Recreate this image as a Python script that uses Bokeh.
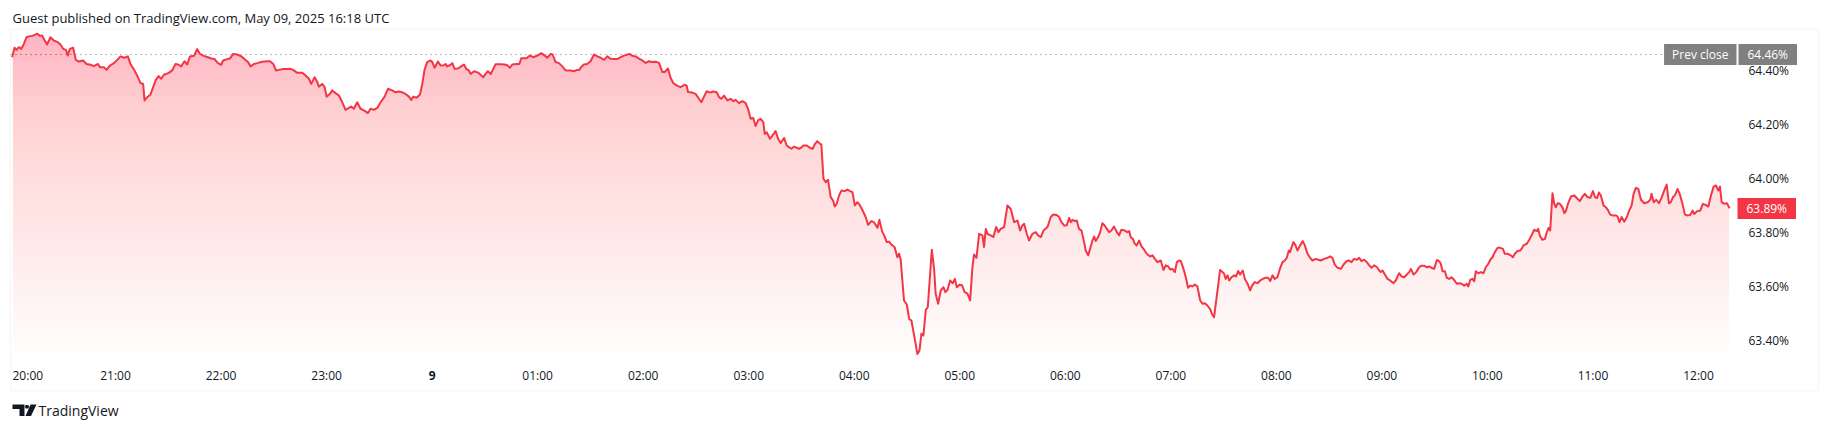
import numpy as np
from bokeh.plotting import figure
from bokeh.models import Range1d, Label, BoxAnnotation, PolyAnnotation
from bokeh.embed import file_html
from bokeh.resources import INLINE

# ---------------- data (minutes after 20:00, value in %) ----------------
t1 = [1.2, 2.6, 3.7, 5.0, 6.4, 7.5, 9.4, 10.7, 12.6, 13.9, 15.5, 17.0, 18.3, 19.6, 21.1, 23.0, 24.9, 26.8, 28.7, 30.2,
      31.8, 32.9, 34.0, 35.9, 37.4, 39.1, 41.6, 43.5, 45.8, 47.7, 50.0, 51.1, 53.4, 54.9, 56.8, 59.1, 61.0, 62.8, 65.1,
      67.0, 68.5, 70.8, 72.7, 74.2, 75.7, 76.5, 78.0, 79.9, 81.4, 82.9, 84.5, 86.0, 87.5, 90.3, 92.2, 94.1, 95.6, 97.3,
      99.2, 100.8, 102.3, 104.6, 106.4, 108.0, 110.2, 112.5, 114.4, 116.3, 118.2, 120.1, 121.2, 123.5, 125.0, 126.9,
      129.2, 131.5, 133.9, 135.3, 136.8, 138.7, 140.6, 143.4, 146.3, 147.8, 149.7, 151.2, 152.9, 155.4, 157.6]
v1 = [64.450, 64.485, 64.477, 64.487, 64.481, 64.493, 64.524, 64.527, 64.529, 64.532, 64.537, 64.529, 64.530, 64.514,
      64.497, 64.524, 64.512, 64.507, 64.497, 64.481, 64.477, 64.456, 64.481, 64.485, 64.440, 64.434, 64.438, 64.425,
      64.422, 64.417, 64.425, 64.413, 64.413, 64.403, 64.419, 64.428, 64.440, 64.453, 64.448, 64.453, 64.425, 64.401,
      64.376, 64.354, 64.351, 64.290, 64.302, 64.312, 64.339, 64.366, 64.380, 64.370, 64.385, 64.392, 64.401, 64.425,
      64.423, 64.416, 64.435, 64.423, 64.453, 64.455, 64.480, 64.462, 64.455, 64.450, 64.445, 64.443, 64.428, 64.422,
      64.438, 64.443, 64.445, 64.462, 64.460, 64.453, 64.440, 64.432, 64.416, 64.425, 64.428, 64.433, 64.435, 64.435,
      64.425, 64.401, 64.403, 64.406, 64.406]

t2 = [159.5, 161.4, 163.3, 166.2, 168.1, 170.0, 171.3, 173.2, 174.7, 175.6, 177.5, 178.9, 180.0, 181.9, 183.2, 185.1,
      187.0, 188.9, 190.8, 192.7, 194.0, 195.5, 197.4, 199.3, 201.2, 203.5, 205.0, 206.9, 208.8, 210.7, 213.0, 214.9,
      217.3, 219.2, 221.1, 223.0, 224.9, 226.8, 228.1, 229.3, 231.2, 233.1, 234.4, 235.7, 237.2, 239.1, 240.1, 241.4,
      243.3, 244.8, 246.7, 247.7, 248.6, 250.1, 251.5, 252.8, 254.7, 257.2, 258.1, 259.4, 260.9, 261.9, 263.8, 266.1,
      268.0, 269.1, 270.4, 271.7, 273.3, 276.1, 279.0, 281.2, 282.7, 284.3, 285.6, 288.1, 289.6, 290.7, 293.7, 295.6,
      297.5, 299.8, 302.1, 304.0, 305.5, 307.4, 308.5, 310.2, 312.1, 314.0, 315.9, 318.8, 320.6, 322.5, 323.7]
v2 = [64.407, 64.401, 64.392, 64.392, 64.382, 64.370, 64.351, 64.376, 64.358, 64.341, 64.351, 64.339, 64.304, 64.314,
      64.327, 64.317, 64.308, 64.283, 64.255, 64.262, 64.267, 64.259, 64.283, 64.259, 64.253, 64.243, 64.259, 64.255,
      64.262, 64.283, 64.304, 64.333, 64.327, 64.320, 64.323, 64.320, 64.314, 64.304, 64.292, 64.304, 64.300, 64.312,
      64.351, 64.403, 64.432, 64.438, 64.432, 64.411, 64.434, 64.419, 64.420, 64.425, 64.416, 64.420, 64.428, 64.407,
      64.408, 64.419, 64.423, 64.407, 64.401, 64.388, 64.398, 64.393, 64.382, 64.376, 64.388, 64.398, 64.388, 64.424,
      64.424, 64.423, 64.420, 64.411, 64.423, 64.425, 64.425, 64.446, 64.446, 64.456, 64.450, 64.456, 64.465, 64.456,
      64.448, 64.462, 64.460, 64.432, 64.428, 64.416, 64.401, 64.401, 64.398, 64.403, 64.403]

t3 = [324.4, 326.3, 328.2, 330.1, 332.0, 333.9, 335.8, 337.7, 339.6, 341.5, 343.4, 345.3, 347.2, 349.1, 351.0, 352.5,
      353.8, 355.7, 357.6, 359.5, 361.4, 363.3, 365.2, 367.1, 369.0, 370.9, 372.2, 374.1, 375.6, 377.1, 379.4, 381.3,
      383.6, 384.7, 385.5, 387.9, 389.8, 391.7, 393.1, 394.6, 396.1, 398.0, 399.9, 401.8, 403.1, 404.4, 405.9, 407.9,
      409.7, 411.3, 412.6, 414.5, 416.4, 418.3, 419.6, 421.1, 422.6, 423.9, 425.3, 426.8, 428.3, 429.1, 430.2, 432.1,
      433.4, 435.3, 436.7, 438.2, 440.1, 441.6, 442.9, 444.3, 445.8, 448.6]
v3 = [64.411, 64.423, 64.425, 64.435, 64.460, 64.453, 64.448, 64.440, 64.453, 64.444, 64.443, 64.443, 64.450, 64.456,
      64.460, 64.462, 64.455, 64.453, 64.445, 64.438, 64.429, 64.435, 64.432, 64.433, 64.429, 64.395, 64.395, 64.408,
      64.374, 64.354, 64.344, 64.339, 64.348, 64.345, 64.321, 64.319, 64.314, 64.296, 64.283, 64.304, 64.324, 64.319,
      64.323, 64.320, 64.302, 64.296, 64.308, 64.290, 64.296, 64.287, 64.292, 64.280, 64.287, 64.280, 64.259, 64.222,
      64.225, 64.195, 64.216, 64.222, 64.209, 64.166, 64.172, 64.148, 64.159, 64.176, 64.148, 64.132, 64.151, 64.123,
      64.117, 64.111, 64.119, 64.111]

t4 = [449.6, 451.1, 453.0, 454.9, 456.4, 457.5, 459.0, 460.6, 461.3, 462.5, 463.8, 465.1, 466.6, 468.0, 468.9, 470.0,
      471.4, 472.7, 474.6, 476.1, 477.6, 479.0, 480.3, 481.8, 483.3, 484.8, 486.5, 487.9, 489.8, 491.3, 493.2, 494.3,
      495.8, 497.0, 498.5, 499.8, 501.1, 503.0, 504.5, 505.5, 506.4, 508.3, 509.9, 511.2, 512.5, 514.4, 515.9, 517.1,
      518.2, 519.3, 520.7, 521.8, 522.9, 524.1, 525.4, 526.3, 527.7, 529.2, 530.7, 531.8, 533.0, 534.5, 536.0, 537.2,
      538.3, 539.8, 541.3, 542.8, 544.4, 545.9, 547.2, 548.1, 549.5, 551.0, 552.9, 553.8, 554.8, 555.7, 557.6, 559.1,
      560.7, 562.0, 563.3, 565.2, 567.1, 569.0, 570.9, 572.8, 574.3, 575.6, 576.6, 578.1, 579.4, 581.3, 583.2, 584.5,
      586.1, 587.6, 589.9]
v4 = [64.114, 64.123, 64.123, 64.114, 64.111, 64.127, 64.139, 64.129, 64.127, 64.000, 63.987, 63.996, 63.932, 63.919,
      63.897, 63.907, 63.938, 63.956, 63.954, 63.960, 63.954, 63.950, 63.901, 63.913, 63.901, 63.882, 63.858, 63.829,
      63.843, 63.838, 63.818, 63.848, 63.806, 63.790, 63.765, 63.767, 63.756, 63.746, 63.709, 63.722, 63.700, 63.549,
      63.534, 63.481, 63.475, 63.407, 63.351, 63.364, 63.426, 63.419, 63.514, 63.524, 63.625, 63.737, 63.666, 63.574,
      63.537, 63.586, 63.598, 63.580, 63.588, 63.623, 63.613, 63.629, 63.598, 63.607, 63.605, 63.580, 63.574, 63.549,
      63.672, 63.719, 63.707, 63.796, 63.790, 63.747, 63.814, 63.796, 63.790, 63.784, 63.821, 63.802, 63.814, 63.821,
      63.901, 63.888, 63.839, 63.845, 63.808, 63.827, 63.833, 63.796, 63.771, 63.796, 63.802, 63.790, 63.784, 63.808,
      63.821]

t5 = [591.7, 593.2, 595.1, 596.5, 597.8, 599.3, 600.8, 602.2, 603.1, 604.1, 605.4, 606.5, 607.8, 609.2, 610.7, 611.6,
      613.0, 614.1, 615.4, 616.4, 617.3, 618.6, 619.8, 621.1, 622.4, 623.6, 624.9, 626.2, 627.7, 629.3, 630.6, 631.9,
      633.8, 635.3, 636.3, 637.2, 638.4, 639.5, 640.6, 642.0, 643.3, 644.8, 646.3, 648.2, 649.6, 650.9, 652.4, 654.3,
      655.8, 657.1, 658.5, 659.6, 660.9, 662.3, 663.4, 664.7, 665.7, 667.2, 668.5, 669.8, 671.0, 672.3, 673.6, 675.1,
      676.7, 678.0, 679.3, 680.8, 682.3, 683.5, 684.6, 685.8, 686.9, 688.0, 689.4, 690.3, 691.2, 692.2, 693.2, 694.5,
      696.0, 697.1, 698.3, 699.4, 700.9, 702.1, 703.6, 705.1, 706.2, 707.7, 709.3, 710.8, 712.3, 714.0, 715.3, 716.5,
      717.8, 719.1, 720.6, 722.2, 723.5, 724.8, 725.9, 727.1, 727.8, 728.6, 729.7, 730.9, 732.0, 733.5, 735.0, 736.2,
      737.7, 739.2, 740.5, 742.4, 743.8, 745.3, 747.2, 749.1, 750.6, 751.9, 753.2, 754.8, 756.7, 758.2, 760.1, 761.4,
      762.7, 764.2, 765.8, 767.1, 768.4, 769.9, 771.4, 772.8, 774.1, 775.6, 777.1, 778.5]
v5 = [63.858, 63.867, 63.866, 63.858, 63.839, 63.827, 63.827, 63.855, 63.839, 63.848, 63.843, 63.845, 63.814, 63.808,
      63.765, 63.734, 63.716, 63.740, 63.771, 63.786, 63.769, 63.783, 63.802, 63.835, 63.827, 63.814, 63.802, 63.808,
      63.823, 63.802, 63.790, 63.811, 63.808, 63.802, 63.806, 63.783, 63.777, 63.759, 63.753, 63.771, 63.749, 63.737,
      63.722, 63.712, 63.716, 63.703, 63.691, 63.697, 63.662, 63.679, 63.675, 63.664, 63.666, 63.654, 63.691, 63.697,
      63.695, 63.666, 63.635, 63.596, 63.604, 63.601, 63.608, 63.601, 63.549, 63.537, 63.539, 63.530, 63.518, 63.497,
      63.487, 63.549, 63.604, 63.662, 63.654, 63.648, 63.629, 63.642, 63.623, 63.635, 63.642, 63.638, 63.658, 63.645,
      63.660, 63.629, 63.611, 63.586, 63.604, 63.617, 63.613, 63.623, 63.629, 63.633, 63.633, 63.621, 63.642, 63.629,
      63.635, 63.670, 63.691, 63.697, 63.707, 63.734, 63.728, 63.746, 63.765, 63.753, 63.734, 63.753, 63.769, 63.753,
      63.722, 63.707, 63.697, 63.703, 63.700, 63.697, 63.703, 63.707, 63.712, 63.707, 63.682, 63.670, 63.666, 63.682,
      63.695, 63.697, 63.691, 63.703, 63.700, 63.707, 63.695, 63.700, 63.691, 63.679, 63.670, 63.679, 63.673, 63.660]

t6 = [779.4, 780.4, 781.7, 783.2, 784.7, 786.6, 787.9, 789.8, 791.2, 792.7, 794.2, 795.5, 796.5, 798.0, 799.5, 801.2,
      802.5, 804.0, 805.6, 806.9, 808.2, 809.7, 811.3, 812.6, 813.5, 814.5, 815.8, 816.9, 818.3, 819.6, 821.1, 822.6,
      824.0, 825.3, 826.8, 828.3, 829.1, 830.2, 831.5, 832.5, 833.4, 834.8, 836.3, 837.8, 839.1, 840.5, 841.6, 842.9,
      844.2, 845.8, 847.3, 848.8, 849.9, 851.4, 853.3, 854.5, 855.6, 857.1, 858.6, 859.4, 860.5, 862.4, 863.8, 865.1,
      866.6, 868.1, 868.9, 869.8, 871.2, 872.7, 873.6, 874.8, 875.7, 877.0, 878.0, 878.9, 879.9, 881.2, 882.7, 883.7,
      884.6, 885.9, 887.5, 889.4, 891.3, 892.6, 894.1, 895.4, 896.9, 898.5, 900.0, 901.1, 902.3, 903.4, 904.5, 906.0,
      907.4, 908.7, 909.8, 911.2, 913.1, 914.0, 915.1, 916.3, 917.8, 919.3, 920.6, 922.0, 923.1, 924.4, 925.8, 927.3,
      929.2, 931.1, 932.6, 933.3, 934.5, 936.0, 937.5, 939.0, 940.5, 941.9, 943.2, 944.3, 945.5, 946.6, 948.1, 949.3,
      951.0, 952.3, 953.8, 955.3, 956.7, 957.6, 959.1, 961.0, 962.5, 964.0, 965.6, 967.1, 968.6, 969.9, 971.3, 972.2,
      973.2, 974.7, 976.2, 977.7]
v6 = [63.654, 63.660, 63.645, 63.629, 63.623, 63.613, 63.623, 63.650, 63.638, 63.635, 63.645, 63.654, 63.666, 63.645,
      63.654, 63.672, 63.678, 63.678, 63.672, 63.675, 63.670, 63.666, 63.699, 63.694, 63.685, 63.657, 63.657, 63.633,
      63.629, 63.635, 63.625, 63.611, 63.613, 63.611, 63.604, 63.611, 63.601, 63.625, 63.629, 63.620, 63.657, 63.650,
      63.654, 63.650, 63.672, 63.685, 63.699, 63.709, 63.728, 63.744, 63.744, 63.740, 63.722, 63.722, 63.716, 63.709,
      63.722, 63.732, 63.734, 63.740, 63.753, 63.759, 63.774, 63.790, 63.811, 63.806, 63.814, 63.790, 63.774, 63.777,
      63.798, 63.818, 63.808, 63.946, 63.907, 63.894, 63.909, 63.907, 63.894, 63.872, 63.880, 63.909, 63.934, 63.938,
      63.925, 63.917, 63.934, 63.944, 63.932, 63.929, 63.954, 63.932, 63.928, 63.949, 63.938, 63.901, 63.894, 63.882,
      63.867, 63.864, 63.864, 63.860, 63.839, 63.858, 63.841, 63.858, 63.882, 63.901, 63.944, 63.966, 63.962, 63.922,
      63.909, 63.913, 63.922, 63.944, 63.913, 63.922, 63.909, 63.929, 63.956, 63.978, 63.909, 63.913, 63.932, 63.938,
      63.962, 63.944, 63.904, 63.867, 63.864, 63.866, 63.882, 63.869, 63.879, 63.882, 63.907, 63.903, 63.897, 63.938,
      63.971, 63.975, 63.956, 63.971, 63.913, 63.907, 63.909, 63.890]

prev_close = 64.46
last_value = 63.89
hour_ticks = [0, 60, 120, 180, 240, 300, 360, 420, 480, 540, 600, 660, 720, 780, 840, 900, 960]
hour_labels = ["20:00", "21:00", "22:00", "23:00", "9", "01:00", "02:00", "03:00", "04:00", "05:00",
               "06:00", "07:00", "08:00", "09:00", "10:00", "11:00", "12:00"]
price_ticks = [63.4, 63.6, 63.8, 64.0, 64.2, 64.4]
price_labels = ["63.40%", "63.60%", "63.80%", "64.00%", "64.20%", "64.40%"]
header_text = "Guest published on TradingView.com, May 09, 2025 16:18 UTC"
brand_text = "TradingView"

# ---------------- layout constants (pixels of the 1831x430 canvas) ----------------
W, H = 1831, 430
PX_HOUR = 105.53      # pixels per hour
X_20H = 9.5           # pixel column of 20:00
PX_PCT = 270.0        # pixels per 1 %
Y_PREV = 54.0         # pixel row of the prev-close level
PANE_L, PANE_R, PANE_T, PANE_B = 10, 1735, 30, 362


def mx(px):  # pixel column -> minutes
    return (px - X_20H) * 60.0 / PX_HOUR


def vy(py):  # pixel row -> value
    return prev_close - (py - Y_PREV) / PX_PCT


# ---------------- assemble ----------------
xs_all, ys_all = [], []
for ts, vs in [(t1, v1), (t2, v2), (t3, v3), (t4, v4), (t5, v5), (t6, v6)]:
    for a, b in zip(ts, vs):
        xs_all.append(a)
        ys_all.append(b)
x = np.array(xs_all)
y = np.array(ys_all)

RED = "#f23645"
TXT = "#131722"
FONT = "Open Sans"

p = figure(width=W, height=H, output_backend="svg", toolbar_location=None, tools="",
           x_range=Range1d(mx(0), mx(W)), y_range=Range1d(vy(H), vy(0)),
           x_axis_location=None, y_axis_location=None,
           min_border_left=0, min_border_right=0, min_border_top=0, min_border_bottom=0)
p.background_fill_color = "white"
p.border_fill_color = "white"
p.outline_line_color = None
p.grid.visible = False

pane_x0, pane_x1 = mx(PANE_L), mx(PANE_R)
pane_y0, pane_y1 = vy(PANE_B), vy(PANE_T)

# prev close dotted line
p.segment(x0=[pane_x0], x1=[pane_x1], y0=[prev_close], y1=[prev_close],
          line_color="#787b86", line_width=1, line_dash="1 4")

# gradient area fill (stacked translucent layers)
N = 60
levels = np.linspace(pane_y0, pane_y1, N + 1)[:-1]
prev_T = 0.0
for k, lv in enumerate(levels):
    T = 0.28 * (k + 1) / N
    a = 1 - (1 - T) / (1 - prev_T)
    prev_T = T
    p.varea(x=x, y1=np.full_like(y, lv), y2=np.maximum(y, lv), fill_color=RED, fill_alpha=a)

p.line(x, y, line_color=RED, line_width=2, line_join="round")

# time-scale labels
lab_kw = dict(text_font_size="12px", text_color=TXT, text_baseline="middle", y_offset=13)
p.text(x=hour_ticks[:1], y=[pane_y0], text=hour_labels[:1], text_align="left", x_offset=2.5,
       text_font={"value": FONT}, **lab_kw)
p.text(x=hour_ticks[4:5], y=[pane_y0], text=hour_labels[4:5], text_align="center",
       text_font={"value": FONT}, text_font_style="bold", **lab_kw)
p.text(x=hour_ticks[1:4] + hour_ticks[5:], y=[pane_y0] * (len(hour_ticks) - 2),
       text=hour_labels[1:4] + hour_labels[5:], text_align="center",
       text_font={"value": FONT}, **lab_kw)

# price-scale labels
p.text(x=[pane_x1] * len(price_ticks), y=price_ticks, text=price_labels, x_offset=13,
       text_align="left", text_baseline="middle", text_font={"value": FONT},
       text_font_size="12px", text_color=TXT)

# price badges (x = outer edge of the badge box)
badge_kw = dict(x_units="screen", y_units="data", text_font=FONT, text_font_size="12px",
                text_color="white", text_baseline="middle")
p.add_layout(Label(x=1736, y=prev_close, text="Prev close", text_align="right",
                   background_fill_color="#808080", padding=(8, 2), **badge_kw))
p.add_layout(Label(x=1738, y=prev_close, text=f"{prev_close:.2f}%", text_align="left",
                   background_fill_color="#808080", padding=(9, 2), **badge_kw))
p.add_layout(Label(x=1737, y=last_value, text=f"{last_value:.2f}%", text_align="left",
                   background_fill_color=RED, padding=(9, 2), **badge_kw))

# header / footer (screen units, y measured upward from the canvas bottom)
p.add_layout(Label(x=12, y=H - 17, x_units="screen", y_units="screen", text=header_text,
                   text_font=FONT, text_font_size="13px", text_color=TXT,
                   text_align="left", text_baseline="middle"))
p.add_layout(Label(x=38, y=H - 410, x_units="screen", y_units="screen", text=brand_text,
                   text_font=FONT, text_font_size="14px", text_color=TXT,
                   text_align="left", text_baseline="middle"))

# chart border
p.add_layout(BoxAnnotation(left=10, right=1818, top=H - 29, bottom=H - 390,
                           left_units="screen", right_units="screen", top_units="screen", bottom_units="screen",
                           fill_alpha=0, line_color="#ececec", line_width=2))

# TradingView logo
for shape in ([(12, 404), (24, 404), (24, 415.5), (19, 415.5), (19, 408.5), (12, 408.5)],
              [(30, 404), (36, 404), (30.5, 415.5), (25, 415.5)],
              [(25.2, 404.5), (27.8, 404.5), (28.6, 406.3), (27.8, 408.1), (25.2, 408.1), (24.4, 406.3)]):
    p.add_layout(PolyAnnotation(xs=[a for a, _ in shape], ys=[H - b for _, b in shape],
                                xs_units="screen", ys_units="screen",
                                fill_color=TXT, fill_alpha=1, line_color=None))

open("out.html", "w").write(file_html(p, INLINE))
